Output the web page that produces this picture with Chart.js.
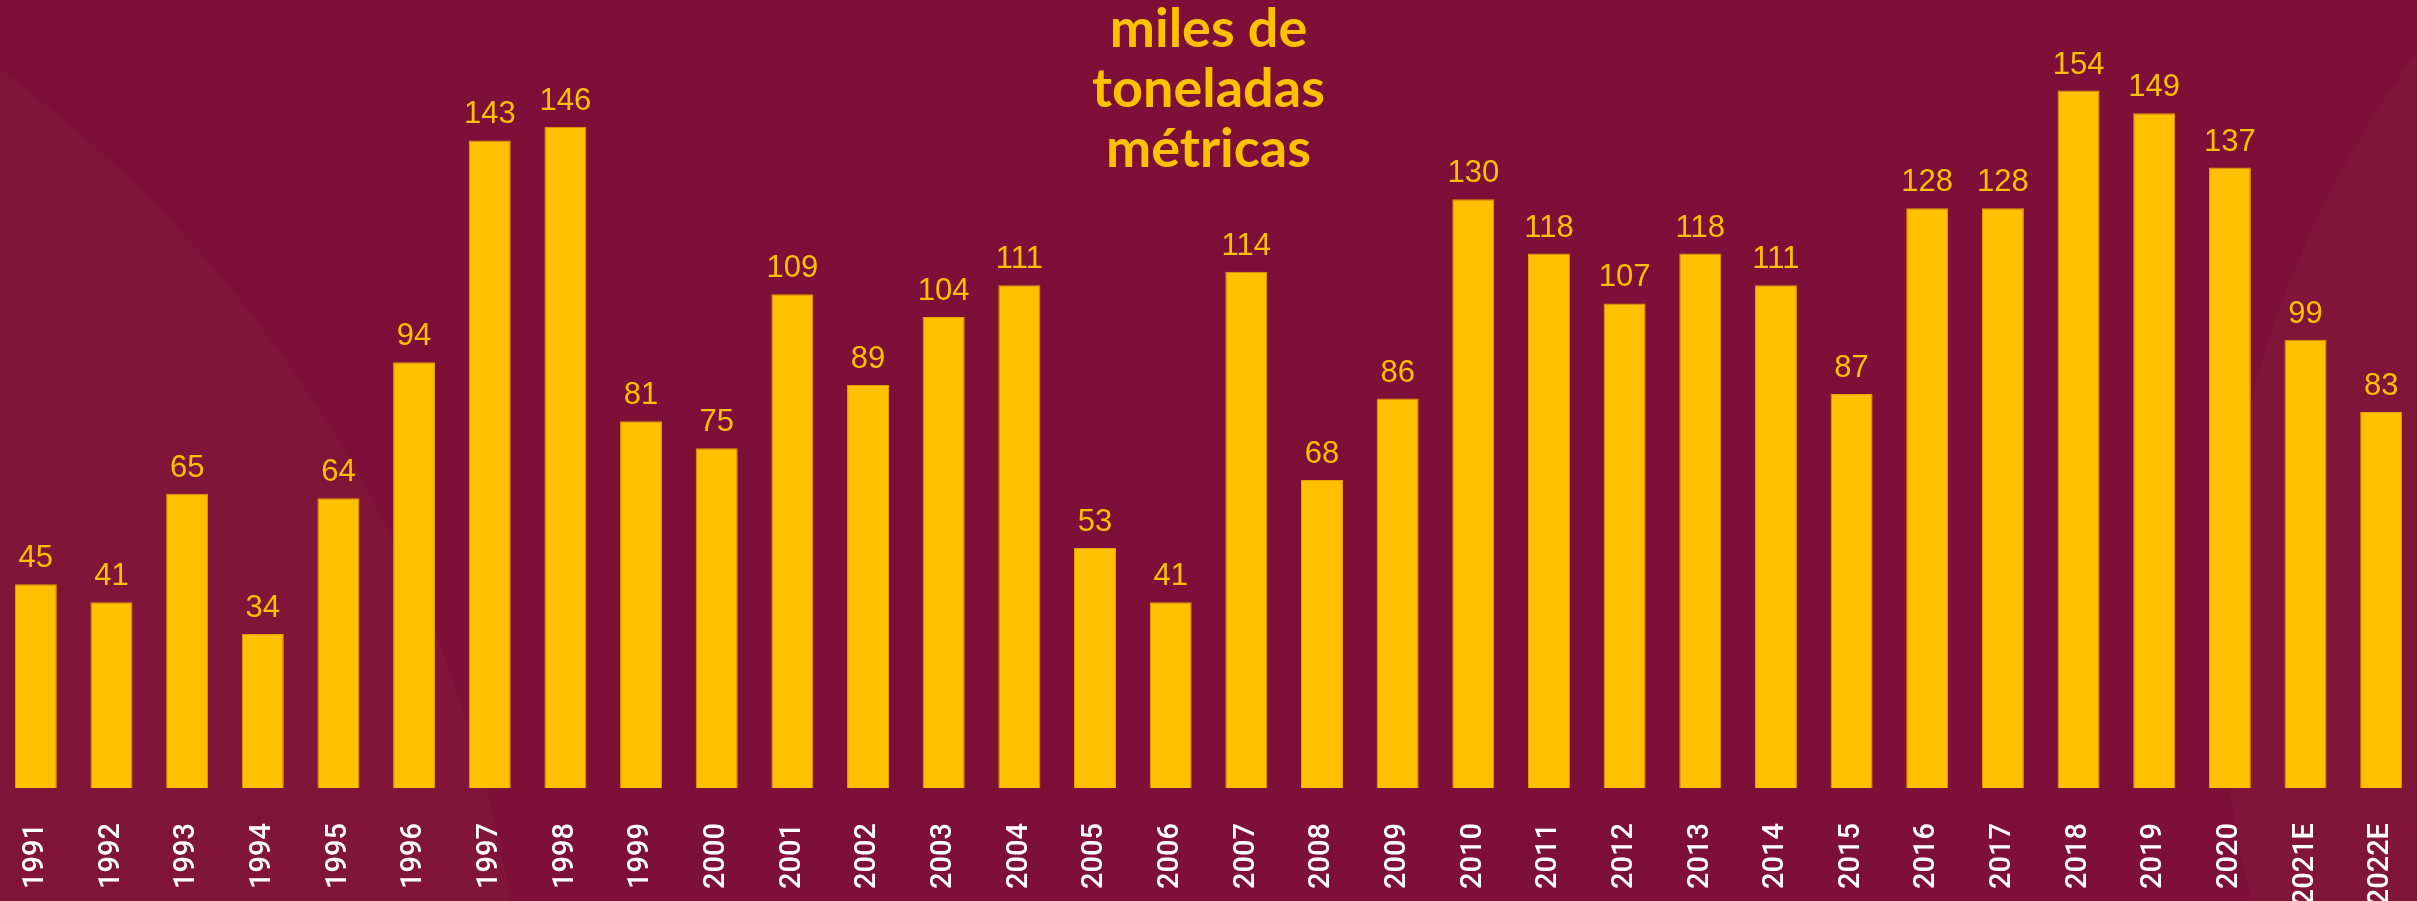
<!DOCTYPE html>
<html>
<head>
<meta charset="utf-8">
<script src="https://cdn.jsdelivr.net/npm/chart.js@4/dist/chart.umd.min.js"></script>
<style>
  html, body { margin: 0; padding: 0; width: 2417px; height: 901px; overflow: hidden; }
  body {
    background-color: #7d0f38;
    background-image:
      radial-gradient(circle at -778px 1120px, #811539 0, #811539 1306px, rgba(0,0,0,0) 1308px),
      radial-gradient(circle at 3225px 650px, #811539 0, #811539 1004px, rgba(0,0,0,0) 1006px);
    position: relative;
  }
  #wrap { position: absolute; left: -3px; top: 0; width: 2424px; height: 901px; }
  #title {
    position: absolute; left: 0; width: 2417px; top: -3px;
    text-align: center; color: #ffc000;
    font-family: Lato, "Open Sans", sans-serif; font-weight: 700;
    font-size: 54px; line-height: 60px;
  }
</style>
</head>
<body>
<div id="wrap"><canvas id="c" width="2424" height="901"></canvas></div>
<div id="title">miles de<br>toneladas<br>métricas</div>
<script>
const categories = ["1991","1992","1993","1994","1995","1996","1997","1998","1999","2000",
  "2001","2002","2003","2004","2005","2006","2007","2008","2009","2010",
  "2011","2012","2013","2014","2015","2016","2017","2018","2019","2020","2021E","2022E"];
const values = [45,41,65,34,64,94,143,146,81,75,
  109,89,104,111,53,41,114,68,86,130,
  118,107,118,111,87,128,128,154,149,137,99,83];
const yMax = 174;

const valueLabels = {
  id: 'valueLabels',
  afterDatasetsDraw(chart) {
    const ctx = chart.ctx;
    const meta = chart.getDatasetMeta(0);
    ctx.save();
    ctx.fillStyle = '#ffc000';
    ctx.font = '31px "Liberation Sans", Arial, sans-serif';
    ctx.textAlign = 'center';
    ctx.textBaseline = 'alphabetic';
    meta.data.forEach((bar, i) => {
      ctx.fillText(String(values[i]), bar.x, bar.y - 17);
    });
    ctx.restore();
  }
};

new Chart(document.getElementById('c'), {
  type: 'bar',
  data: {
    labels: categories,
    datasets: [{
      data: values,
      backgroundColor: '#ffc000',
      borderColor: '#e9a100',
      borderWidth: 1,
      barPercentage: 0.555,
      categoryPercentage: 1.0
    }]
  },
  options: {
    responsive: false,
    animation: false,
    devicePixelRatio: 1,
    layout: { padding: { left: 1, right: 2, top: 0, bottom: 0 } },
    plugins: { legend: { display: false }, tooltip: { enabled: false }, title: { display: false } },
    scales: {
      y: { display: false, min: 0, max: yMax },
      x: {
        grid: { display: false, drawTicks: false },
        border: { display: false },
        ticks: {
          color: '#ffffff',
          font: { family: 'Roboto, "Open Sans", sans-serif', size: 29, weight: '500' },
          minRotation: 90, maxRotation: 90,
          padding: 35,
          autoSkip: false
        },
        afterFit(scale) {
          scale.height = 113;
          scale.paddingLeft = 0;
          scale.paddingRight = 0;
        }
      }
    }
  },
  plugins: [valueLabels]
});
</script>
</body>
</html>
